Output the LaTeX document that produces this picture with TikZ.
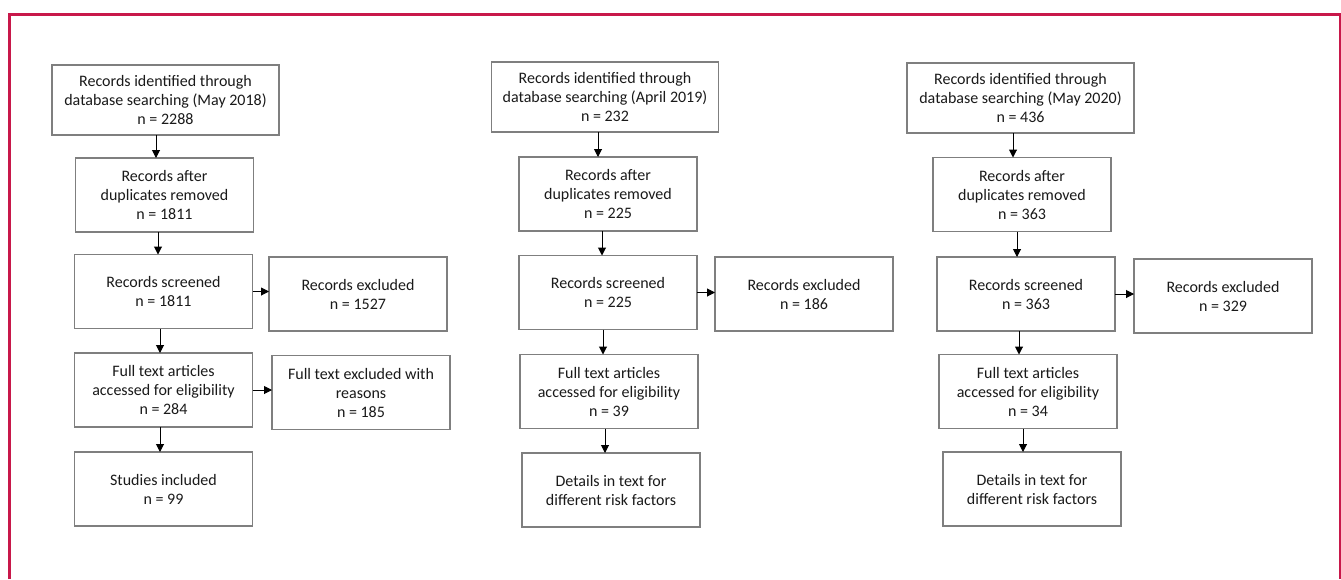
\documentclass[tikz,border=0pt]{standalone}
\usepackage{fontspec}
\setmainfont{Carlito}
\usetikzlibrary{arrows.meta}
\definecolor{color_frame}{HTML}{C8184A}
\definecolor{color_box_line}{HTML}{7F7F7F}
\definecolor{color_box_text}{HTML}{1A1A1A}
\tikzset{
    flowbox/.style={draw=color_box_line, line width=1.1pt, fill=white, align=center,
        inner sep=0pt, outer sep=0pt, text=color_box_text,
        font=\fontsize{16}{19}\selectfont},
    widebox/.style={flowbox, minimum width=227, minimum height=70},
    narrowbox/.style={flowbox, minimum width=178, minimum height=74},
    flowarrow/.style={draw=black, line width=1pt, -{Triangle[length=8pt,width=8pt]}}
}
% vertical step: from box #1 down to box #2 at x = #3
\def\stepdown(#1,#2,#3){
    \draw[flowarrow] (#1.south -| #3,0) -- (#2.north -| #3,0);
}
% horizontal step: from box #1 across to box #2
\def\stepaside(#1,#2){
    \draw[flowarrow] (#1.east) -- (#1.east -| #2.west);
}

\begin{document}
\begin{tikzpicture}[x=1pt,y=-1pt]
        \useasboundingbox (0,0) rectangle (1341,579);
        % frame, open at the bottom
        \draw[color_frame, line width=2.4pt] (9.5,579) -- (9.5,14.5) -- (1340,14.5) -- (1340,579);

        % search May 2018
        \node[widebox] (search1) at (165.5,100) {Records identified through\\database searching (May 2018)\\n = 2288};
        \node[narrowbox] (dedup1) at (164.5,195) {Records after\\duplicates removed\\n = 1811};
        \node[narrowbox] (screen1) at (163.5,291.5) {Records screened\\n = 1811};
        \node[narrowbox] (excl1) at (358,294) {Records excluded\\n = 1527};
        \node[narrowbox] (full1) at (163.5,390) {Full text articles\\accessed for eligibility\\n = 284};
        \node[narrowbox] (fullexcl1) at (361,392.5) {Full text excluded with\\reasons\\n = 185};
        \node[narrowbox] (incl1) at (163.5,489) {Studies included\\n = 99};
        \stepdown(search1,dedup1,156)
        \stepdown(dedup1,screen1,158)
        \stepdown(screen1,full1,160)
        \stepdown(full1,incl1,160)
        \stepaside(screen1,excl1)
        \stepaside(full1,fullexcl1)

        % search April 2019
        \node[widebox] (search2) at (605,97) {Records identified through\\database searching (April 2019)\\n = 232};
        \node[narrowbox] (dedup2) at (608,194) {Records after\\duplicates removed\\n = 225};
        \node[narrowbox] (screen2) at (608,292.5) {Records screened\\n = 225};
        \node[narrowbox] (excl2) at (804,294) {Records excluded\\n = 186};
        \node[narrowbox] (full2) at (609,391.5) {Full text articles\\accessed for eligibility\\n = 39};
        \node[narrowbox] (details2) at (611,490) {Details in text for\\different risk factors};
        \stepdown(search2,dedup2,598)
        \stepdown(dedup2,screen2,602)
        \stepdown(screen2,full2,603)
        \stepdown(full2,details2,605)
        \stepaside(screen2,excl2)

        % search May 2020
        \node[widebox] (search3) at (1020.5,98) {Records identified through\\database searching (May 2020)\\n = 436};
        \node[narrowbox] (dedup3) at (1022,194.5) {Records after\\duplicates removed\\n = 363};
        \node[narrowbox] (screen3) at (1026,294) {Records screened\\n = 363};
        \node[narrowbox] (excl3) at (1223,296) {Records excluded\\n = 329};
        \node[narrowbox] (full3) at (1028,391.5) {Full text articles\\accessed for eligibility\\n = 34};
        \node[narrowbox] (details3) at (1032,489) {Details in text for\\different risk factors};
        \stepdown(search3,dedup3,1013)
        \stepdown(dedup3,screen3,1017)
        \stepdown(screen3,full3,1019)
        \stepdown(full3,details3,1023)
        \stepaside(screen3,excl3)
\end{tikzpicture}
\end{document}
